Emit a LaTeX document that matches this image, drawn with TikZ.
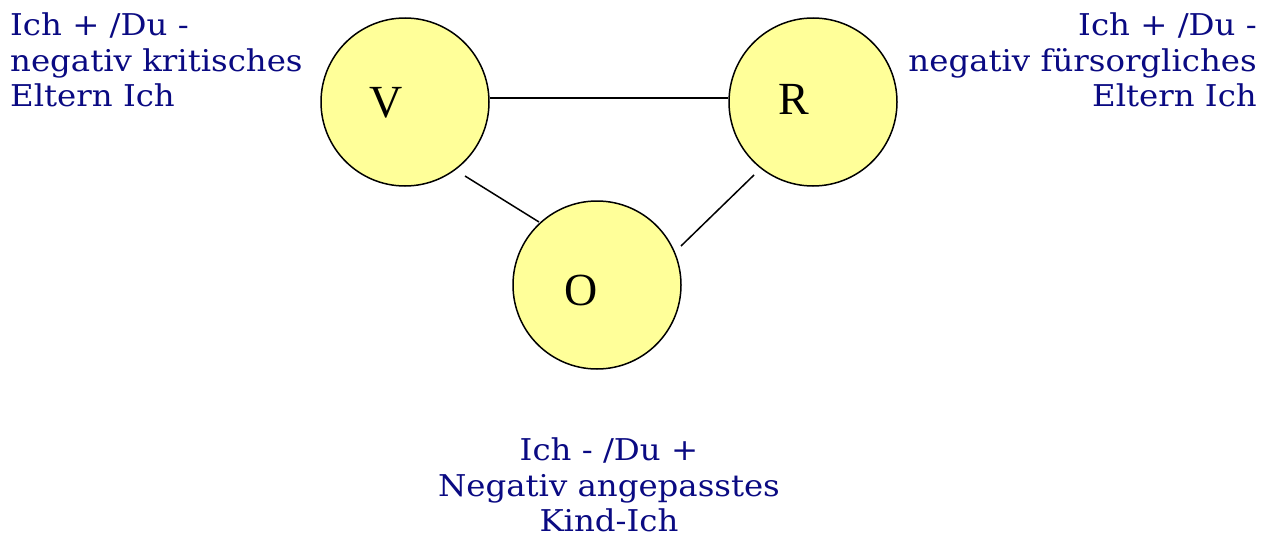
\documentclass[tikz,border=0pt]{standalone}
\usepackage{fontspec}
\setmainfont[FakeStretch=1.08]{DejaVu Serif}
\newfontfamily\letterfont{Liberation Serif}
\usetikzlibrary{calc}
\definecolor{labelblue}{RGB}{10,10,130}
\definecolor{circfill}{RGB}{255,255,153}
\tikzset{
  ego/.style={circle,draw=black,line width=1.5pt,fill=circfill,minimum size=168pt,inner sep=0pt},
  egoletter/.style={font=\letterfont\fontsize{46}{46}\selectfont,inner sep=0pt},
  lbl/.style={text=labelblue,font=\fontsize{30}{35.5}\selectfont,inner sep=0pt},
  conn/.style={line width=1.5pt,draw=black}
}
\begin{document}
\begin{tikzpicture}[x=1pt,y=-1pt]
\useasboundingbox (0,0) rectangle (1269,538);
\node[ego] (V) at (405,102) {};
\node[ego] (R) at (813,102) {};
\node[ego] (O) at (597,285) {};
\node[egoletter] (Vt) at (386,103) {V};
\node[egoletter] (Rt) at (794,99) {R};
\node[egoletter] (Ot) at (581,290) {O};
\draw[conn] ($(V.east)+(0,-4)$) -- ($(R.west)+(0,-4)$);
\draw[conn] ($(V)+(60,74)$) -- ($(O)+(-58,-63)$);
\draw[conn] ($(R)+(-59,73)$) -- ($(O)+(84,-39)$);
\node[lbl,align=left,anchor=north west] (L1) at (10,13) {Ich + /Du -\\negativ kritisches\\Eltern Ich};
\node[lbl,align=right,anchor=north east] (L2) at (1257,13) {Ich + /Du -\\negativ fürsorgliches\\Eltern Ich};
\node[lbl,align=center,anchor=north] (L3) at (609,438) {Ich - /Du +\\Negativ angepasstes\\Kind-Ich};
\end{tikzpicture}
\end{document}
